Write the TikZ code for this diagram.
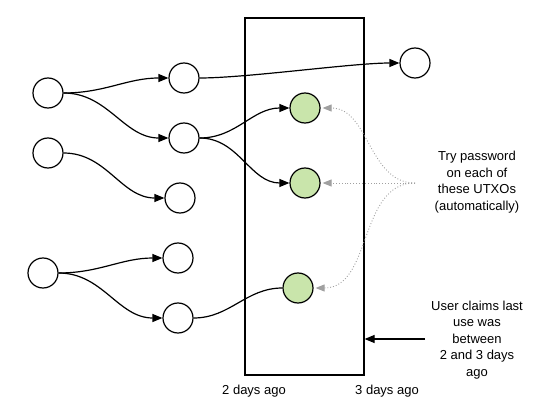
\documentclass[tikz,border=0pt]{standalone}
\usepackage{fontspec}
\setmainfont{Liberation Sans}
\usetikzlibrary{arrows.meta}
\definecolor{utxogreen}{HTML}{C9E5AB}
\definecolor{hintgrey}{HTML}{A0A0A0}
\begin{document}
\begin{tikzpicture}[x=1pt,y=-1pt,
  txo/.style={circle,draw=black,line width=1.2pt,minimum size=30pt,inner sep=0pt,fill=white},
  gtxo/.style={txo,fill=utxogreen},
  flow/.style={line width=1.2pt,-{Triangle[length=10pt,width=8pt]},out=0,in=180},
  hint/.style={hintgrey,line width=0.9pt,dotted,-{Triangle[length=9pt,width=7pt]}},
  lbl/.style={font=\fontsize{13}{16.5}\selectfont,align=center}]
\useasboundingbox (0,0) rectangle (546,409);
\node[draw=black,line width=1.2pt,minimum width=119pt,minimum height=357pt,inner sep=0pt] (win) at (304.5,196.5) {};
\node[txo] (a1) at (48,93) {};
\node[txo] (a2) at (48,153) {};
\node[txo] (a3) at (43,273) {};
\node[txo] (b1) at (184,78) {};
\node[txo] (b2) at (184,138) {};
\node[txo] (b3) at (180,198) {};
\node[txo] (b4) at (178,258) {};
\node[txo] (b5) at (178,318) {};
\node[txo] (c1) at (415,63) {};
\node[gtxo] (g1) at (305,108) {};
\node[gtxo] (g2) at (305,183) {};
\node[gtxo] (g3) at (298,288) {};
\draw[flow] (a1.east) to (b1.west);
\draw[flow] (a1.east) to (b2.west);
\draw[flow] (a2.east) to (b3.west);
\draw[flow] (a3.east) to (b4.west);
\draw[flow] (a3.east) to (b5.west);
\draw[flow,looseness=0.6] (b1.east) to (c1.west);
\draw[flow] (b2.east) to (g1.west);
\draw[flow] (b2.east) to (g2.west);
\draw[line width=1.2pt,out=0,in=180] (b5.east) to (g3.west);
\coordinate (hsrc) at (415,183);
\draw[hint] (hsrc) to[out=180,in=0] ([xshift=2pt]g1.east);
\draw[hint] (hsrc) -- ([xshift=2pt]g2.east);
\draw[hint] (hsrc) to[out=180,in=0] ([xshift=2pt]g3.east);
\node[lbl] (try) at (477,182) {Try password\\on each of\\these UTXOs\\(automatically)};
\node[lbl] (user) at (477,340) {User claims last\\use was\\between\\2 and 3 days\\ago};
\coordinate (usrc) at (425,339);
\draw[line width=1.2pt,-{Triangle[length=10pt,width=8pt]}] (usrc) -- (win.east |- usrc);
\node[lbl] (d2) at (254,391) {2 days ago};
\node[lbl] (d3) at (387,391) {3 days ago};
\end{tikzpicture}
\end{document}
